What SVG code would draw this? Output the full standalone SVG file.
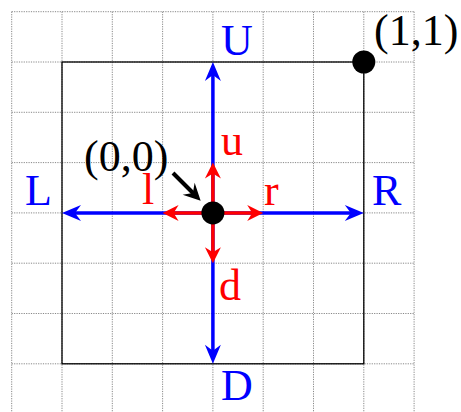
<svg xmlns="http://www.w3.org/2000/svg" width="461" height="412" viewBox="0 0 461 412">
<defs>
<style>
.grid{stroke:#7a7a7a;stroke-width:0.9;stroke-dasharray:1.2 1.2;fill:none}
.sq{stroke:#000;stroke-width:1.3;fill:none}
.blue{stroke:#0000ff;stroke-width:3.5;fill:none}
.red{stroke:#ff0000;stroke-width:3.5;fill:none}
.blk{stroke:#000;stroke-width:4;fill:none}
text{font-family:"Liberation Serif","DejaVu Serif",serif;font-size:44px}
.tb{fill:#0000ff}.tr{fill:#ff0000}.tk{fill:#000}
</style>
<marker id="ab" markerUnits="userSpaceOnUse" markerWidth="40" markerHeight="40" viewBox="-20 -20 40 40" refX="0" refY="0" orient="auto">
<path d="M10,0 L-9,-8 L-3,0 L-9,8 Z" fill="#0000ff"/>
</marker>
<marker id="ar" markerUnits="userSpaceOnUse" markerWidth="40" markerHeight="40" viewBox="-20 -20 40 40" refX="0" refY="0" orient="auto">
<path d="M8,0 L-8,-8 L-3,0 L-8,8 Z" fill="#ff0000"/>
</marker>
<marker id="ak" markerUnits="userSpaceOnUse" markerWidth="40" markerHeight="40" viewBox="-20 -20 40 40" refX="0" refY="0" orient="auto">
<path d="M8,0 L-9,-8.5 L-3,0 L-9,8.5 Z" fill="#000"/>
</marker>
</defs>
<g id="grid" class="grid">
<path d="M11.7,11.7V414M62,11.7V414M112.3,11.7V414M162.6,11.7V414M212.9,11.7V414M263.2,11.7V414M313.5,11.7V414M363.8,11.7V414M414.1,11.7V414"/>
<path d="M11.7,11.7H414.1M11.7,62H414.1M11.7,112.3H414.1M11.7,162.6H414.1M11.7,212.9H414.1M11.7,263.2H414.1M11.7,313.5H414.1M11.7,363.8H414.1M11.7,414.1H414.1"/>
</g>
<g id="square"><rect class="sq" x="62" y="62" width="301.8" height="301.8"/></g>
<g id="connectors">
<line class="blue" x1="212.9" y1="212.9" x2="212.9" y2="72" marker-end="url(#ab)"/>
<line class="blue" x1="212.9" y1="212.9" x2="212.9" y2="353.8" marker-end="url(#ab)"/>
<line class="blue" x1="212.9" y1="212.9" x2="72" y2="212.9" marker-end="url(#ab)"/>
<line class="blue" x1="212.9" y1="212.9" x2="353.8" y2="212.9" marker-end="url(#ab)"/>
<line class="red" x1="212.9" y1="212.9" x2="212.9" y2="170.6" marker-end="url(#ar)"/>
<line class="red" x1="212.9" y1="212.9" x2="212.9" y2="255.2" marker-end="url(#ar)"/>
<line class="red" x1="212.9" y1="212.9" x2="170.6" y2="212.9" marker-end="url(#ar)"/>
<line class="red" x1="212.9" y1="212.9" x2="255.2" y2="212.9" marker-end="url(#ar)"/>
<line class="blk" x1="173" y1="173" x2="195" y2="195" marker-end="url(#ak)"/>
</g>
<g id="origin"><circle cx="212.9" cy="212.9" r="11.5" fill="#000"/><text class="tk" x="84" y="171">(0,0)</text></g>
<g id="corner"><circle cx="363.8" cy="62" r="11.5" fill="#000"/><text class="tk" x="374" y="45">(1,1)</text></g>
<g id="U"><text class="tb" x="221" y="55">U</text></g>
<g id="D"><text class="tb" x="221" y="400">D</text></g>
<g id="L"><text class="tb" x="25" y="205">L</text></g>
<g id="R"><text class="tb" x="372" y="205">R</text></g>
<g id="u"><text class="tr" x="221" y="155">u</text></g>
<g id="d"><text class="tr" x="219" y="300">d</text></g>
<g id="l"><text class="tr" x="142" y="204">l</text></g>
<g id="r"><text class="tr" x="264" y="205">r</text></g>
</svg>
